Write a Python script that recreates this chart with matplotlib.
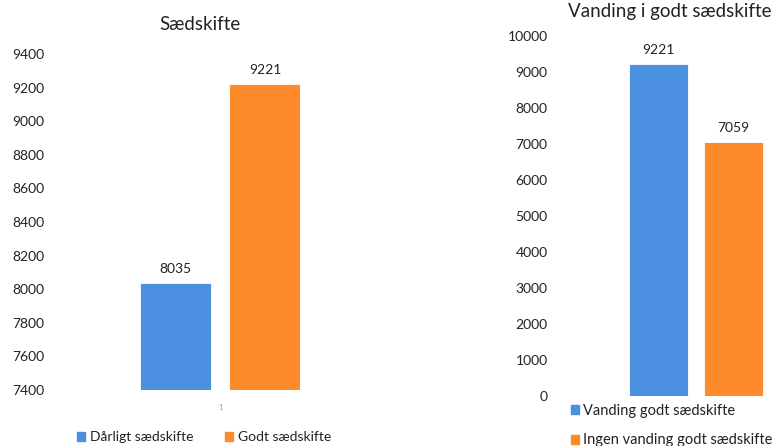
import matplotlib.pyplot as plt
from matplotlib.patches import Patch

plt.rcParams['font.family'] = ['Lato', 'DejaVu Sans']

# Sædskifte
saed_labels = ['Dårligt sædskifte', 'Godt sædskifte']
saed_values = [8035, 9221]
saed_ticks = [7400, 7600, 7800, 8000, 8200, 8400, 8600, 8800, 9000, 9200, 9400]

# Vanding i godt sædskifte
vand_labels = ['Vanding godt sædskifte', 'Ingen vanding godt sædskifte']
vand_values = [9221, 7059]
vand_ticks = [0, 1000, 2000, 3000, 4000, 5000, 6000, 7000, 8000, 9000, 10000]

farver = ['#4a8fe0', '#fd8b2c']
tekst = '#222222'

W, H = 779, 446
fig = plt.figure(figsize=(W / 100, H / 100), dpi=100)


def px_axes(x0, y0, x1, y1):
    # akser angivet i pixels (øverst venstre -> nederst højre)
    return fig.add_axes([x0 / W, 1 - y1 / H, (x1 - x0) / W, (y1 - y0) / H])


def styling(ax, ticks, pad):
    for s in ax.spines.values():
        s.set_visible(False)
    ax.set_yticks(ticks)
    ax.tick_params(axis='y', length=0, pad=pad, labelsize=10, labelcolor=tekst)
    ax.tick_params(axis='x', length=0)


# venstre diagram
ax1 = px_axes(60, 54, 380, 390)
bar1 = ax1.bar([-0.5, 0.5], saed_values, width=0.79, color=farver,
               edgecolor='white', linewidth=0.6)
ax1.set_ylim(7400, 9400)
ax1.set_xlim(-1.78, 1.78)
styling(ax1, saed_ticks, 11)
ax1.set_xticks([0])
ax1.set_xticklabels(['1'], fontsize=5, color='#999999')
ax1.tick_params(axis='x', pad=10)
for b, v in zip(bar1, saed_values):
    ax1.annotate(str(v), (b.get_x() + b.get_width() / 2, v), xytext=(0, 6),
                 textcoords='offset points', ha='center', va='bottom',
                 fontsize=10, color=tekst)
fig.text(200 / W, 1 - 25 / H, 'Sædskifte', ha='center', va='center',
         fontsize=13.5, color=tekst)
fig.legend([Patch(color=c) for c in farver], saed_labels, ncol=2,
           loc='center', bbox_to_anchor=(204 / W, 1 - 437 / H), frameon=False,
           fontsize=10, handlelength=0.6, handleheight=0.6, handletextpad=0.3,
           columnspacing=2.3, labelcolor=tekst)

# højre diagram
ax2 = px_axes(560, 36, 775, 396)
bar2 = ax2.bar([-0.5, 0.5], vand_values, width=0.787, color=farver,
               edgecolor='white', linewidth=0.6)
ax2.set_ylim(0, 10000)
ax2.set_xlim(-1.813, 1.053)
styling(ax2, vand_ticks, 9)
ax2.set_xticks([])
for b, v in zip(bar2, vand_values):
    ax2.annotate(str(v), (b.get_x() + b.get_width() / 2, v), xytext=(0, 6),
                 textcoords='offset points', ha='center', va='bottom',
                 fontsize=10, color=tekst)
fig.text(670 / W, 1 - 12 / H, 'Vanding i godt sædskifte', ha='center',
         va='center', fontsize=13.5, color=tekst)
fig.legend([Patch(color=c) for c in farver], vand_labels, ncol=1,
           loc='upper left', bbox_to_anchor=(571 / W, 1 - 404 / H),
           frameon=False, fontsize=10.5, handlelength=0.55, handleheight=0.55,
           handletextpad=0.3, labelspacing=1.05, labelcolor=tekst,
           borderaxespad=0, borderpad=0)

fig.savefig('out.png', dpi=100)
